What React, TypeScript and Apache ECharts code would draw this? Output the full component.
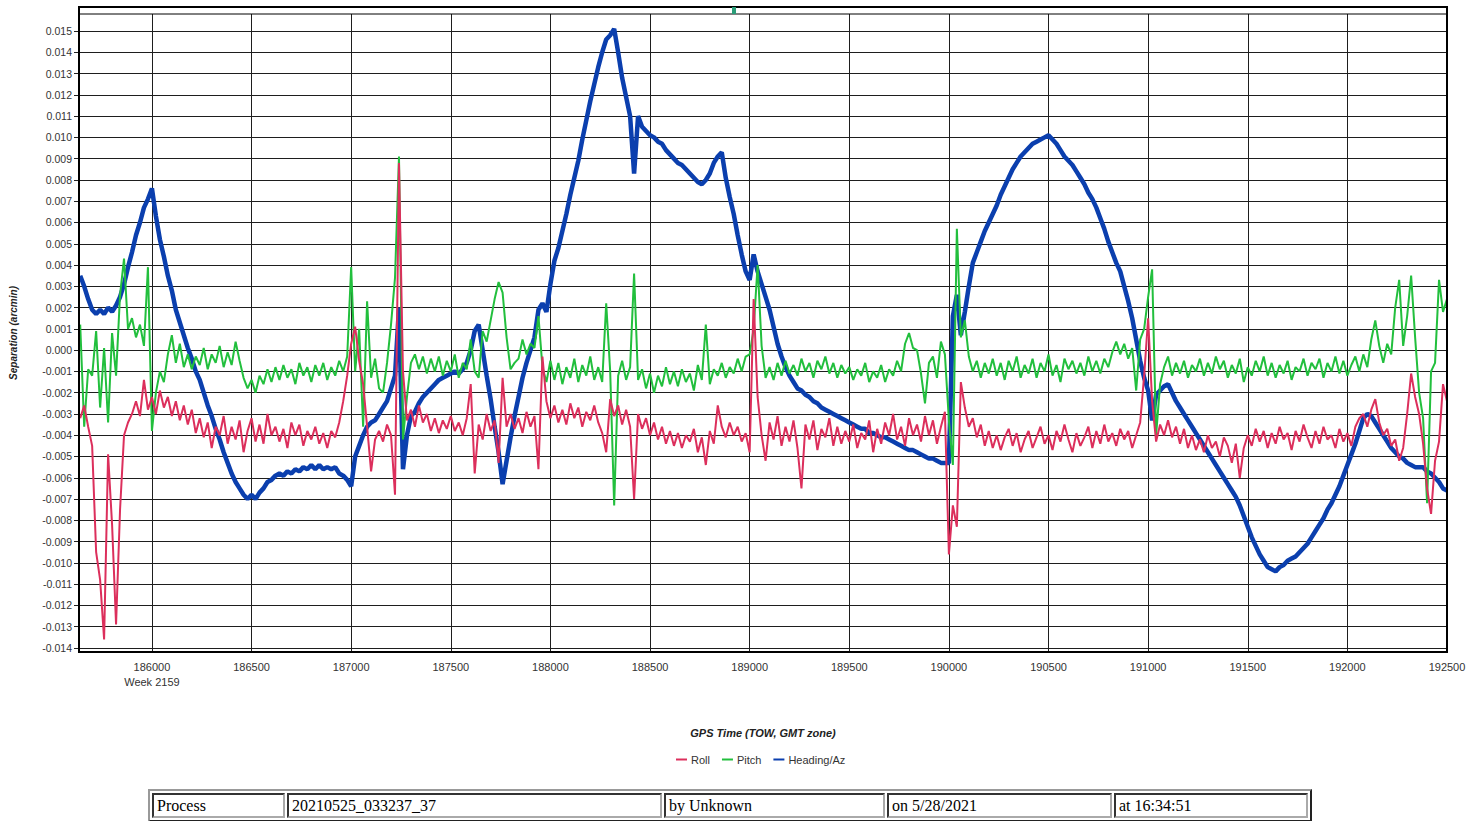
import React, { useEffect, useRef } from "react";
import * as echarts from "echarts";

// Regular GPS sampling (TOW seconds) of the three separation series
const timeStart = 185640;
const timeStep = 20;

const headingValues = [
  0.0035, 0.0030, 0.0024, 0.0019, 0.0017, 0.0019, 0.0017, 0.0020, 0.0018, 0.0021,
  0.0025, 0.0031, 0.0039, 0.0046, 0.0054, 0.0060, 0.0067, 0.0071, 0.0076, 0.0063,
  0.0052, 0.0044, 0.0035, 0.0028, 0.0019, 0.0013, 0.0007, 0.0001, -0.0004, -0.0010,
  -0.0014, -0.0020, -0.0026, -0.0031, -0.0037, -0.0042, -0.0048, -0.0053, -0.0058, -0.0062,
  -0.0065, -0.0068, -0.0070, -0.0068, -0.0070, -0.0067, -0.0065, -0.0062, -0.0061, -0.0059,
  -0.0058, -0.0059, -0.0057, -0.0058, -0.0056, -0.0057, -0.0055, -0.0056, -0.0054, -0.0056,
  -0.0054, -0.0056, -0.0055, -0.0056, -0.0055, -0.0058, -0.0059, -0.0061, -0.0064, -0.0050,
  -0.0045, -0.0040, -0.0036, -0.0034, -0.0033, -0.0030, -0.0027, -0.0024, -0.0018, -0.0012,
  0.0020, -0.0056, -0.0040, -0.0031, -0.0029, -0.0025, -0.0022, -0.0020, -0.0018, -0.0016,
  -0.0014, -0.0013, -0.0012, -0.0011, -0.0010, -0.0011, -0.0009, -0.0006, 0.0000, 0.0009,
  0.0012, 0.0000, -0.0012, -0.0023, -0.0036, -0.0048, -0.0063, -0.0052, -0.0041, -0.0031,
  -0.0022, -0.0013, -0.0006, 0.0000, 0.0006, 0.0019, 0.0022, 0.0018, 0.0031, 0.0042,
  0.0048, 0.0056, 0.0064, 0.0073, 0.0081, 0.0089, 0.0099, 0.0108, 0.0117, 0.0125,
  0.0133, 0.0140, 0.0146, 0.0148, 0.0151, 0.0140, 0.0128, 0.0119, 0.0110, 0.0083,
  0.0110, 0.0105, 0.0103, 0.0101, 0.0100, 0.0098, 0.0097, 0.0094, 0.0092, 0.0090,
  0.0088, 0.0087, 0.0085, 0.0083, 0.0081, 0.0079, 0.0078, 0.0080, 0.0083, 0.0088,
  0.0091, 0.0093, 0.0081, 0.0072, 0.0064, 0.0054, 0.0045, 0.0037, 0.0033, 0.0045,
  0.0037, 0.0031, 0.0025, 0.0019, 0.0011, 0.0003, -0.0003, -0.0008, -0.0012, -0.0015,
  -0.0018, -0.0019, -0.0021, -0.0022, -0.0024, -0.0025, -0.0027, -0.0028, -0.0029, -0.0030,
  -0.0031, -0.0032, -0.0033, -0.0034, -0.0035, -0.0036, -0.0037, -0.0037, -0.0039, -0.0039,
  -0.0040, -0.0041, -0.0041, -0.0042, -0.0043, -0.0044, -0.0045, -0.0046, -0.0047, -0.0047,
  -0.0048, -0.0049, -0.0050, -0.0051, -0.0051, -0.0052, -0.0053, -0.0053, -0.0053, 0.0016,
  0.0026, 0.0007, 0.0018, 0.0030, 0.0041, 0.0046, 0.0051, 0.0056, 0.0060, 0.0064,
  0.0068, 0.0073, 0.0077, 0.0081, 0.0085, 0.0088, 0.0091, 0.0093, 0.0095, 0.0097,
  0.0098, 0.0099, 0.0100, 0.0101, 0.0099, 0.0097, 0.0094, 0.0091, 0.0089, 0.0087,
  0.0084, 0.0081, 0.0078, 0.0074, 0.0071, 0.0067, 0.0062, 0.0057, 0.0051, 0.0046,
  0.0041, 0.0037, 0.0030, 0.0023, 0.0015, 0.0005, -0.0005, -0.0013, -0.0019, -0.0033,
  -0.0021, -0.0019, -0.0017, -0.0016, -0.0020, -0.0024, -0.0027, -0.0030, -0.0033, -0.0036,
  -0.0039, -0.0042, -0.0045, -0.0048, -0.0051, -0.0054, -0.0057, -0.0060, -0.0063, -0.0066,
  -0.0069, -0.0073, -0.0078, -0.0083, -0.0088, -0.0092, -0.0096, -0.0099, -0.0102, -0.0103,
  -0.0104, -0.0102, -0.0101, -0.0099, -0.0098, -0.0097, -0.0095, -0.0093, -0.0091, -0.0088,
  -0.0085, -0.0082, -0.0079, -0.0075, -0.0072, -0.0068, -0.0064, -0.0059, -0.0054, -0.0049,
  -0.0044, -0.0038, -0.0032, -0.0030, -0.0031, -0.0034, -0.0037, -0.0040, -0.0043, -0.0046,
  -0.0048, -0.0050, -0.0051, -0.0053, -0.0054, -0.0055, -0.0055, -0.0055, -0.0057, -0.0058,
  -0.0060, -0.0062, -0.0065, -0.0066,
];

const rollValues = [
  -0.0032, -0.0026, -0.0036, -0.0045, -0.0095, -0.0108, -0.0136, -0.0049, -0.0082, -0.0129,
  -0.0075, -0.0040, -0.0034, -0.0030, -0.0024, -0.0031, -0.0014, -0.0028, -0.0022, -0.0030,
  -0.0019, -0.0027, -0.0022, -0.0031, -0.0024, -0.0033, -0.0026, -0.0035, -0.0028, -0.0039,
  -0.0032, -0.0041, -0.0034, -0.0046, -0.0036, -0.0040, -0.0031, -0.0044, -0.0036, -0.0042,
  -0.0033, -0.0048, -0.0038, -0.0032, -0.0043, -0.0035, -0.0044, -0.0030, -0.0040, -0.0036,
  -0.0043, -0.0037, -0.0046, -0.0034, -0.0040, -0.0035, -0.0045, -0.0038, -0.0042, -0.0036,
  -0.0044, -0.0039, -0.0046, -0.0038, -0.0041, -0.0034, -0.0024, -0.0012, 0.0003, 0.0011,
  -0.0005, -0.0016, -0.0036, -0.0057, -0.0042, -0.0038, -0.0043, -0.0035, -0.0040, -0.0068,
  0.0088, -0.0010, -0.0033, -0.0028, -0.0036, -0.0026, -0.0034, -0.0030, -0.0038, -0.0032,
  -0.0039, -0.0033, -0.0037, -0.0031, -0.0038, -0.0034, -0.0040, -0.0032, -0.0016, -0.0058,
  -0.0035, -0.0042, -0.0030, -0.0038, -0.0033, -0.0053, -0.0013, -0.0036, -0.0030, -0.0037,
  -0.0032, -0.0039, -0.0029, -0.0036, -0.0031, -0.0056, -0.0003, -0.0024, -0.0032, -0.0026,
  -0.0034, -0.0028, -0.0035, -0.0025, -0.0032, -0.0027, -0.0036, -0.0029, -0.0033, -0.0026,
  -0.0034, -0.0039, -0.0048, -0.0023, -0.0031, -0.0026, -0.0035, -0.0028, -0.0036, -0.0070,
  -0.0030, -0.0037, -0.0032, -0.0040, -0.0034, -0.0042, -0.0036, -0.0044, -0.0038, -0.0045,
  -0.0039, -0.0046, -0.0040, -0.0043, -0.0037, -0.0048, -0.0041, -0.0054, -0.0038, -0.0044,
  -0.0026, -0.0036, -0.0041, -0.0034, -0.0040, -0.0036, -0.0043, -0.0039, -0.0048, 0.0024,
  -0.0022, -0.0040, -0.0052, -0.0034, -0.0042, -0.0031, -0.0045, -0.0036, -0.0043, -0.0033,
  -0.0046, -0.0065, -0.0035, -0.0042, -0.0033, -0.0047, -0.0037, -0.0041, -0.0032, -0.0045,
  -0.0036, -0.0044, -0.0038, -0.0043, -0.0035, -0.0046, -0.0039, -0.0042, -0.0033, -0.0048,
  -0.0037, -0.0044, -0.0034, -0.0040, -0.0030, -0.0042, -0.0036, -0.0045, -0.0032, -0.0040,
  -0.0035, -0.0043, -0.0031, -0.0040, -0.0033, -0.0044, -0.0036, -0.0029, -0.0096, -0.0073,
  -0.0083, -0.0015, -0.0027, -0.0036, -0.0032, -0.0041, -0.0035, -0.0045, -0.0038, -0.0046,
  -0.0040, -0.0047, -0.0041, -0.0037, -0.0045, -0.0039, -0.0048, -0.0042, -0.0038, -0.0046,
  -0.0041, -0.0036, -0.0044, -0.0040, -0.0047, -0.0038, -0.0043, -0.0035, -0.0042, -0.0048,
  -0.0039, -0.0045, -0.0041, -0.0036, -0.0046, -0.0038, -0.0044, -0.0035, -0.0043, -0.0039,
  -0.0045, -0.0037, -0.0042, -0.0038, -0.0046, -0.0040, -0.0034, -0.0012, 0.0015, -0.0024,
  -0.0043, -0.0035, -0.0040, -0.0033, -0.0041, -0.0036, -0.0044, -0.0037, -0.0046, -0.0040,
  -0.0047, -0.0042, -0.0048, -0.0040, -0.0046, -0.0043, -0.0050, -0.0041, -0.0045, -0.0053,
  -0.0044, -0.0060, -0.0046, -0.0040, -0.0045, -0.0037, -0.0043, -0.0038, -0.0046, -0.0039,
  -0.0044, -0.0036, -0.0042, -0.0039, -0.0047, -0.0038, -0.0043, -0.0035, -0.0041, -0.0046,
  -0.0038, -0.0044, -0.0036, -0.0042, -0.0040, -0.0046, -0.0037, -0.0043, -0.0039, -0.0045,
  -0.0036, -0.0032, -0.0030, -0.0036, -0.0028, -0.0023, -0.0034, -0.0040, -0.0037, -0.0045,
  -0.0042, -0.0052, -0.0046, -0.0030, -0.0011, -0.0022, -0.0030, -0.0044, -0.0065, -0.0077,
  -0.0052, -0.0043, -0.0016, -0.0024,
];

const pitchValues = [
  0.0012, -0.0036, -0.0009, -0.0012, 0.0009, -0.0027, 0.0001, -0.0034, 0.0008, -0.0012,
  0.0026, 0.0043, 0.0010, 0.0015, 0.0006, 0.0012, 0.0002, 0.0039, -0.0038, -0.0020,
  -0.0010, -0.0015, -0.0002, 0.0007, -0.0006, 0.0003, -0.0008, -0.0002, -0.0009, -0.0003,
  -0.0007, 0.0001, -0.0009, -0.0002, -0.0006, 0.0002, -0.0008, -0.0001, -0.0007, 0.0004,
  -0.0005, -0.0013, -0.0018, -0.0014, -0.0020, -0.0012, -0.0016, -0.0009, -0.0015, -0.0008,
  -0.0014, -0.0007, -0.0013, -0.0009, -0.0016, -0.0006, -0.0012, -0.0008, -0.0015, -0.0007,
  -0.0012, -0.0006, -0.0014, -0.0008, -0.0012, -0.0005, -0.0010, -0.0003, 0.0039, -0.0010,
  0.0010, -0.0036, 0.0023, -0.0013, -0.0004, -0.0018, -0.0020, -0.0006, 0.0012, 0.0034,
  0.0091, -0.0042, -0.0022, -0.0006, -0.0002, -0.0009, -0.0003, -0.0011, -0.0004, -0.0010,
  -0.0003, -0.0012, -0.0005, -0.0010, -0.0002, -0.0013, -0.0006, -0.0009, 0.0005, -0.0010,
  -0.0013, 0.0009, 0.0004, 0.0014, 0.0024, 0.0032, 0.0027, 0.0006, -0.0009, -0.0006,
  -0.0004, 0.0005, -0.0002, 0.0003, 0.0001, 0.0016, -0.0008, -0.0015, -0.0005, -0.0014,
  -0.0006, -0.0016, -0.0008, -0.0013, -0.0004, -0.0015, -0.0007, -0.0012, -0.0003, -0.0014,
  -0.0008, -0.0015, 0.0022, -0.0010, -0.0073, -0.0012, -0.0005, -0.0014, -0.0008, 0.0036,
  -0.0014, -0.0009, -0.0018, -0.0011, -0.0020, -0.0012, -0.0017, -0.0008, -0.0016, -0.0010,
  -0.0017, -0.0009, -0.0015, -0.0011, -0.0019, -0.0007, -0.0014, 0.0012, -0.0016, -0.0009,
  -0.0012, -0.0006, -0.0013, -0.0008, -0.0011, -0.0004, -0.0010, -0.0003, -0.0002, 0.0010,
  0.0040, 0.0002, -0.0013, -0.0008, -0.0014, -0.0006, -0.0012, -0.0005, -0.0011, -0.0007,
  -0.0012, -0.0004, -0.0010, -0.0006, -0.0013, -0.0005, -0.0009, -0.0003, -0.0011, -0.0006,
  -0.0013, -0.0007, -0.0011, -0.0008, -0.0014, -0.0009, -0.0012, -0.0006, -0.0015, -0.0010,
  -0.0013, -0.0007, -0.0015, -0.0009, -0.0012, -0.0005, -0.0010, 0.0003, 0.0008, 0.0001,
  0.0000, -0.0011, -0.0025, -0.0006, -0.0003, -0.0013, 0.0004, -0.0002, -0.0033, -0.0054,
  0.0057, 0.0006, 0.0014, -0.0003, -0.0010, -0.0005, -0.0013, -0.0006, -0.0011, -0.0004,
  -0.0012, -0.0006, -0.0014, -0.0005, -0.0010, -0.0003, -0.0013, -0.0007, -0.0011, -0.0004,
  -0.0013, -0.0006, -0.0010, -0.0002, -0.0012, -0.0007, -0.0015, -0.0004, -0.0009, -0.0005,
  -0.0011, -0.0006, -0.0012, -0.0003, -0.0010, -0.0005, -0.0011, -0.0004, -0.0008, -0.0001,
  0.0004, -0.0002, 0.0003, -0.0004, 0.0001, -0.0019, 0.0005, 0.0010, 0.0025, 0.0038,
  -0.0040, -0.0016, -0.0008, -0.0003, -0.0012, -0.0006, -0.0011, -0.0005, -0.0013, -0.0007,
  -0.0010, -0.0004, -0.0012, -0.0006, -0.0011, -0.0003, -0.0009, -0.0005, -0.0013, -0.0007,
  -0.0011, -0.0004, -0.0015, -0.0008, -0.0012, -0.0005, -0.0010, -0.0003, -0.0012, -0.0006,
  -0.0013, -0.0007, -0.0011, -0.0005, -0.0014, -0.0008, -0.0010, -0.0004, -0.0012, -0.0006,
  -0.0009, -0.0004, -0.0013, -0.0006, -0.0010, -0.0003, -0.0011, -0.0005, -0.0012, -0.0007,
  -0.0003, -0.0010, -0.0002, -0.0008, 0.0005, 0.0014, 0.0002, -0.0006, 0.0003, -0.0002,
  0.0020, 0.0033, 0.0002, 0.0016, 0.0035, 0.0006, -0.0020, -0.0032, -0.0072, -0.0010,
  -0.0006, 0.0033, 0.0018, 0.0024,
];

const xTickValues = [186000, 186500, 187000, 187500, 188000, 188500, 189000, 189500, 190000, 190500, 191000, 191500, 192000, 192500];
const yTickValues = [
  -0.014, -0.013, -0.012, -0.011, -0.010, -0.009, -0.008, -0.007, -0.006, -0.005, -0.004, -0.003, -0.002, -0.001, 0.0,
  0.001, 0.002, 0.003, 0.004, 0.005, 0.006, 0.007, 0.008, 0.009, 0.010, 0.011, 0.012, 0.013, 0.014, 0.015,
];
const seriesNames = ["Roll", "Pitch", "Heading/Az"];
const seriesColors = ["#dc2f5c", "#22bf3d", "#0b3fae"];
const weekLabel = "Week 2159";
const xAxisTitle = "GPS Time (TOW, GMT zone)";
const yAxisTitle = "Separation (arcmin)";
const tableCells = ["Process", "20210525_033237_37", "by Unknown", "on 5/28/2021", "at 16:34:51"];
const tableWidths = [135, 377, 223, 227, 196];

const xMin = 185634;
const xMax = 192500;
const yMin = -0.01419;
const yMax = 0.0158;

function toPairs(values: number[]) {
  return values.map((v, i) => [timeStart + i * timeStep, v]);
}

const FONT = "'Liberation Sans', Arial, sans-serif";

export default function App() {
  const ref = useRef<HTMLDivElement>(null);

  useEffect(() => {
    document.body.style.margin = "0";
    const chart = echarts.init(ref.current as HTMLDivElement, undefined, { renderer: "svg" });
    const gridLines = [
      ...xTickValues.map((v) => ({ xAxis: v })),
      ...yTickValues.map((v) => ({ yAxis: v })),
    ];
    const option: any = {
      animation: false,
      backgroundColor: "#ffffff",
      textStyle: { fontFamily: FONT },
      grid: { left: 79, right: 34, top: 14, bottom: 169, containLabel: false },
      xAxis: {
        type: "value",
        min: xMin,
        max: xMax,
        axisLine: { show: false },
        splitLine: { show: false },
        axisTick: { show: true, length: 5, customValues: xTickValues, lineStyle: { color: "#222" } },
        axisLabel: {
          customValues: xTickValues,
          margin: 7,
          fontSize: 11,
          color: "#333",
          lineHeight: 15,
          fontFamily: FONT,
          formatter: (v: number) => (v === xTickValues[0] ? `${v}\n${weekLabel}` : String(v)),
        },
      },
      yAxis: {
        type: "value",
        min: yMin,
        max: yMax,
        axisLine: { show: false },
        splitLine: { show: false },
        axisTick: { show: true, length: 5, customValues: yTickValues, lineStyle: { color: "#222" } },
        axisLabel: {
          customValues: yTickValues,
          margin: 7,
          fontSize: 10.5,
          color: "#333",
          fontFamily: FONT,
          formatter: (v: number) => v.toFixed(3),
        },
      },
      legend: {
        data: seriesNames,
        left: 676,
        top: 754,
        padding: 0,
        icon: "rect",
        itemWidth: 11,
        itemHeight: 2,
        itemGap: 12,
        textStyle: { fontSize: 11, color: "#333", fontFamily: FONT, padding: [0, 0, 0, -1] },
      },
      graphic: [
        {
          type: "rect",
          shape: { x: 79, y: 7, width: 1368, height: 645 },
          style: { fill: "none", stroke: "#000", lineWidth: 2 },
          z: 100,
          silent: true,
        },
        {
          type: "line",
          shape: { x1: 79, y1: 14, x2: 1447, y2: 14 },
          style: { stroke: "#000", lineWidth: 1 },
          z: 100,
          silent: true,
        },
        {
          type: "rect",
          shape: { x: 732, y: 7, width: 4, height: 7 },
          style: { fill: "#2a9d78" },
          z: 101,
          silent: true,
        },
        {
          type: "text",
          x: 13,
          y: 333,
          rotation: Math.PI / 2,
          style: {
            text: yAxisTitle,
            fontSize: 10,
            fontWeight: "bold",
            fontStyle: "italic",
            fontFamily: FONT,
            fill: "#222",
            align: "center",
            verticalAlign: "middle",
          },
        },
        {
          type: "text",
          x: 763,
          y: 733,
          style: {
            text: xAxisTitle,
            fontSize: 11,
            fontWeight: "bold",
            fontStyle: "italic",
            fontFamily: FONT,
            fill: "#222",
            align: "center",
            verticalAlign: "middle",
          },
        },
      ],
      series: [
        {
          name: seriesNames[2],
          type: "line",
          data: toPairs(headingValues),
          showSymbol: false,
          symbol: "none",
          lineStyle: { color: seriesColors[2], width: 4.5 },
          itemStyle: { color: seriesColors[2] },
          z: 2,
          markLine: {
            silent: true,
            symbol: ["none", "none"],
            precision: 6,
            z: 1,
            label: { show: false },
            lineStyle: { color: "#1e1e1e", width: 1, type: "solid" },
            emphasis: { disabled: true },
            data: gridLines,
            animation: false,
          },
        },
        {
          name: seriesNames[1],
          type: "line",
          data: toPairs(pitchValues),
          showSymbol: false,
          symbol: "none",
          lineStyle: { color: seriesColors[1], width: 2 },
          itemStyle: { color: seriesColors[1] },
          z: 3,
        },
        {
          name: seriesNames[0],
          type: "line",
          data: toPairs(rollValues),
          showSymbol: false,
          symbol: "none",
          lineStyle: { color: seriesColors[0], width: 2 },
          itemStyle: { color: seriesColors[0] },
          z: 4,
        },
      ],
    };
    chart.setOption(option);
    return () => chart.dispose();
  }, []);

  const cellStyle: React.CSSProperties = {
    border: "2px solid",
    borderColor: "#333 #aaa #aaa #333",
    padding: "0 3px",
    fontFamily: "'Liberation Serif', 'Times New Roman', serif",
    fontSize: 16,
    color: "#000",
    textAlign: "left",
    verticalAlign: "middle",
    whiteSpace: "nowrap",
    overflow: "hidden",
    height: 21,
  };

  return (
    <div style={{ position: "absolute", left: 0, top: 0, width: 1481, height: 821, background: "#fff", overflow: "hidden" }}>
      <div ref={ref} style={{ position: "absolute", left: 0, top: 0, width: 1481, height: 821 }} />
      <table
        style={{
          position: "absolute",
          left: 148,
          top: 789,
          borderCollapse: "separate",
          borderSpacing: 2,
          border: "2px solid",
          borderColor: "#999 #222 #222 #999",
          tableLayout: "fixed",
        }}
      >
        <tbody>
          <tr>
            {tableCells.map((c, i) => (
              <td key={i} style={{ ...cellStyle, width: tableWidths[i] - 12 }}>
                {c}
              </td>
            ))}
          </tr>
        </tbody>
      </table>
    </div>
  );
}
